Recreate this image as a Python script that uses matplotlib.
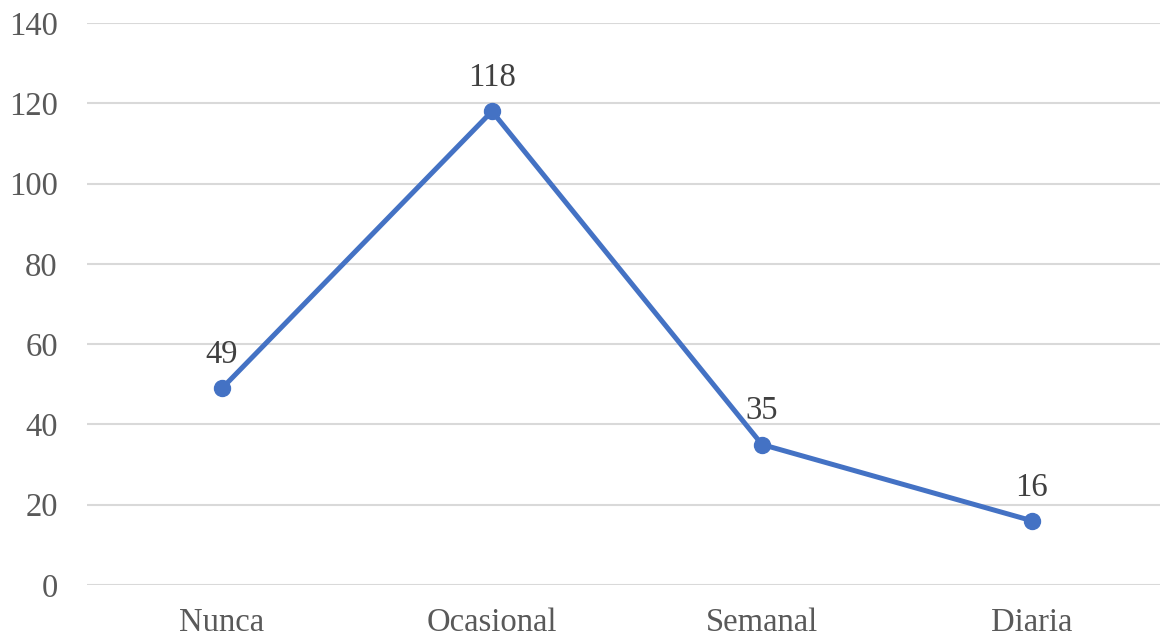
import matplotlib.pyplot as plt

# datos
categorias = ['Nunca', 'Ocasional', 'Semanal', 'Diaria']
valores = [49, 118, 35, 16]
y_ticks = [0, 20, 40, 60, 80, 100, 120, 140]

plt.rcParams['font.family'] = ['Liberation Serif', 'DejaVu Serif']

fig = plt.figure(figsize=(11.6, 6.39), dpi=100)
ax = fig.add_axes([87 / 1160, 54 / 639, 1080 / 1160, 562 / 639])

x = list(range(len(categorias)))
ax.plot(x, valores, color='#4472C4', linewidth=3.6, marker='o', markersize=11.5, zorder=3)

for xi, v in zip(x, valores):
    ax.annotate(str(v), (xi, v), xytext=(0, 13), textcoords='offset points',
                ha='center', va='bottom', fontsize=23.5, color='#404040')

ax.set_xlim(-0.5, 3.5)
ax.set_ylim(0, 140)
ax.set_yticks(y_ticks)
ax.set_xticks(x)
ax.set_xticklabels(categorias)
ax.grid(axis='y', color='#D9D9D9', linewidth=1.5)
ax.set_axisbelow(True)
for s in ax.spines.values():
    s.set_visible(False)
ax.tick_params(axis='both', length=0, labelsize=23.5, colors='#595959')
ax.tick_params(axis='y', pad=21)
ax.tick_params(axis='x', pad=16)

plt.savefig('out.png', dpi=100)
